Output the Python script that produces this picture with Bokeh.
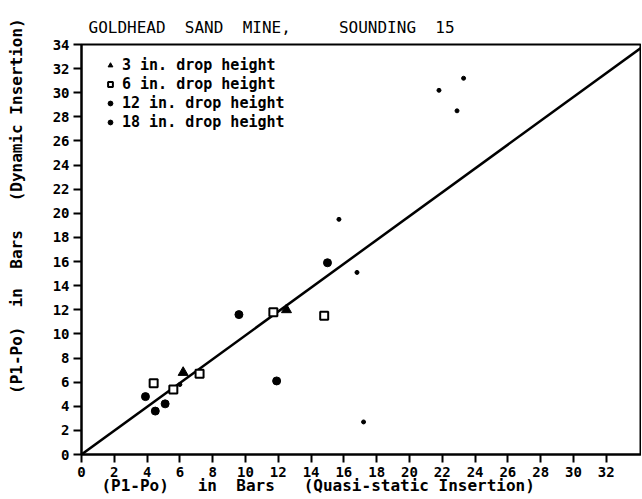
from bokeh.plotting import figure
from bokeh.models import Range1d, FixedTicker, Legend, LegendItem
from bokeh.embed import file_html
from bokeh.resources import INLINE

# Data
tri_x = [6.2, 12.5]
tri_y = [6.8, 12.0]
sq_x = [4.4, 5.6, 7.2, 11.7, 14.8]
sq_y = [5.9, 5.4, 6.7, 11.8, 11.5]
d12_x = [3.9, 5.1, 4.5, 9.6, 11.9, 15.0]
d12_y = [4.8, 4.2, 3.6, 11.6, 6.1, 15.9]
d18_x = [6.0, 15.7, 16.8, 17.2, 21.8, 22.9, 23.3]
d18_y = [5.8, 19.5, 15.1, 2.7, 30.2, 28.5, 31.2]
line_x = [0, 34.15]
line_y = [0, 33.75]
x_ticks = list(range(0, 33, 2))
y_ticks = list(range(0, 35, 2))

NB = "\u00a0"
title_text = "GOLDHEAD" + NB * 2 + "SAND" + NB * 2 + "MINE," + NB * 5 + "SOUNDING" + NB * 2 + "15"
xlabel_text = "(P1-Po)" + NB * 3 + "in" + NB * 2 + "Bars" + NB * 3 + "(Quasi-static Insertion)" + NB * 9
ylabel_text = NB * 9 + "(P1-Po)" + NB * 2 + "in" + NB * 2 + "Bars" + NB * 3 + "(Dynamic Insertion)"

p = figure(width=641, height=498, output_backend="svg", toolbar_location=None,
           x_range=Range1d(0, 34.15), y_range=Range1d(0, 34),
           min_border_left=81, min_border_right=0, min_border_top=44, min_border_bottom=44)
p.grid.visible = False
p.outline_line_color = "black"
p.outline_line_width = 2
p.background_fill_color = "white"
p.border_fill_color = "white"

p.title.text = title_text
p.title.align = "left"
p.title.offset = 7
p.title.text_font = "DejaVu Sans Mono"
p.title.text_font_style = "normal"
p.title.text_font_size = "16px"
p.title.text_color = "black"
p.title.standoff = 15

p.xaxis.ticker = FixedTicker(ticks=x_ticks)
p.yaxis.ticker = FixedTicker(ticks=y_ticks)
for ax in (p.xaxis, p.yaxis):
    ax.axis_line_width = 2
    ax.axis_line_color = "black"
    ax.major_tick_line_width = 2
    ax.major_tick_line_color = "black"
    ax.major_tick_out = 8
    ax.major_tick_in = 0
    ax.minor_tick_out = 0
    ax.minor_tick_in = 0
    ax.major_label_text_font = "DejaVu Sans Mono"
    ax.major_label_text_font_style = "bold"
    ax.major_label_text_font_size = "14px"
    ax.major_label_text_color = "black"
    ax.axis_label_text_font = "DejaVu Sans Mono"
    ax.axis_label_text_font_style = "bold"
    ax.axis_label_text_font_size = "16px"
    ax.axis_label_text_color = "black"

p.xaxis.major_label_standoff = 4
p.yaxis.major_label_standoff = 4
p.xaxis.axis_label = xlabel_text
p.xaxis.axis_label_standoff = -4
p.yaxis.axis_label = ylabel_text
p.yaxis.axis_label_standoff = 24

p.line(line_x, line_y, line_color="black", line_width=2.5)

r_tri = p.scatter(tri_x, tri_y, marker="triangle", size=10, fill_color="black", line_color="black")
r_sq = p.scatter(sq_x, sq_y, marker="square", size=8, fill_color="white", line_color="black", line_width=2)
r_12 = p.scatter(d12_x, d12_y, marker="circle", size=8, fill_color="black", line_color="black")
r_18 = p.scatter(d18_x, d18_y, marker="circle", size=4, fill_color="black", line_color="black")

legend = Legend(items=[
    LegendItem(label="3 in. drop height", renderers=[r_tri]),
    LegendItem(label="6 in. drop height", renderers=[r_sq]),
    LegendItem(label="12 in. drop height", renderers=[r_12]),
    LegendItem(label="18 in. drop height", renderers=[r_18]),
], location=(23, 323), border_line_color=None, background_fill_alpha=0,
    label_text_font="DejaVu Sans Mono", label_text_font_style="bold", label_text_font_size="15px",
    label_text_color="black",
    glyph_width=12, glyph_height=12, label_height=18, spacing=1, padding=0, margin=0,
    label_standoff=6)
p.add_layout(legend)

open("out.html", "w").write(file_html(p, INLINE))
